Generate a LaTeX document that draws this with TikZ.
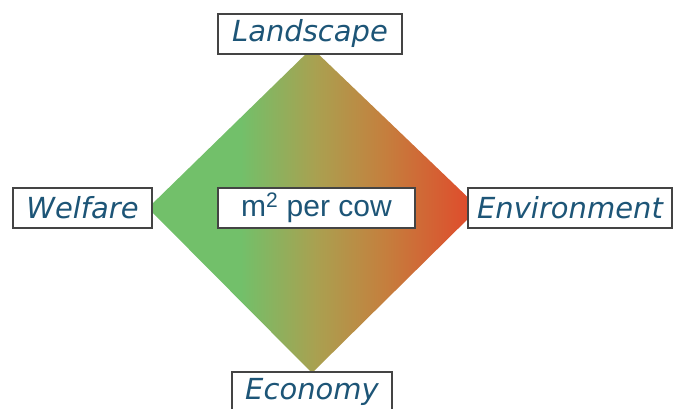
\documentclass[tikz,border=0pt]{standalone}
\usepackage{fontspec}
\setmainfont{DejaVu Sans}
\newfontfamily\arialfont{Liberation Sans}
\definecolor{txtblue}{HTML}{1D5577}
\definecolor{lgreen}{HTML}{72C06A}
\definecolor{midol}{HTML}{AAA050}
\definecolor{orng}{HTML}{C4803E}
\definecolor{rred}{HTML}{E2462A}
\definecolor{boxline}{HTML}{444444}
\pgfdeclarehorizontalshading{diamshade}{100bp}{color(0bp)=(lgreen); color(25bp)=(lgreen); color(39bp)=(lgreen); color(50.5bp)=(midol); color(60.5bp)=(orng); color(75bp)=(rred); color(100bp)=(rred)}
\begin{document}
\begin{tikzpicture}[x=1pt,y=-1pt,
  lbl/.style={draw=boxline,line width=1.1pt,fill=white,inner sep=0pt,
    text=txtblue,font=\fontsize{29}{32}\selectfont\itshape,minimum height=40pt}]
\useasboundingbox (0,0) rectangle (678,409);
\shade[shading=diamshade]
  (312,48) -- (479,208) -- (312,373) -- (148,208) -- cycle;
\node[lbl,minimum width=184pt] (land) at (310,34) {Landscape};
\node[lbl,minimum width=139pt] (welf) at (82.5,208) {Welfare};
\node[lbl,minimum width=204pt] (env) at (570,208) {Environment};
\node[lbl,minimum width=160pt] (eco) at (312,392) {Economy};
\node[draw=boxline,line width=1.1pt,fill=white,inner sep=0pt,minimum height=40pt,
  minimum width=197pt,text=txtblue,font=\arialfont\fontsize{30}{32}\selectfont]
  (mid) at (316.5,208) {m\textsuperscript{2} per cow};
\end{tikzpicture}
\end{document}
